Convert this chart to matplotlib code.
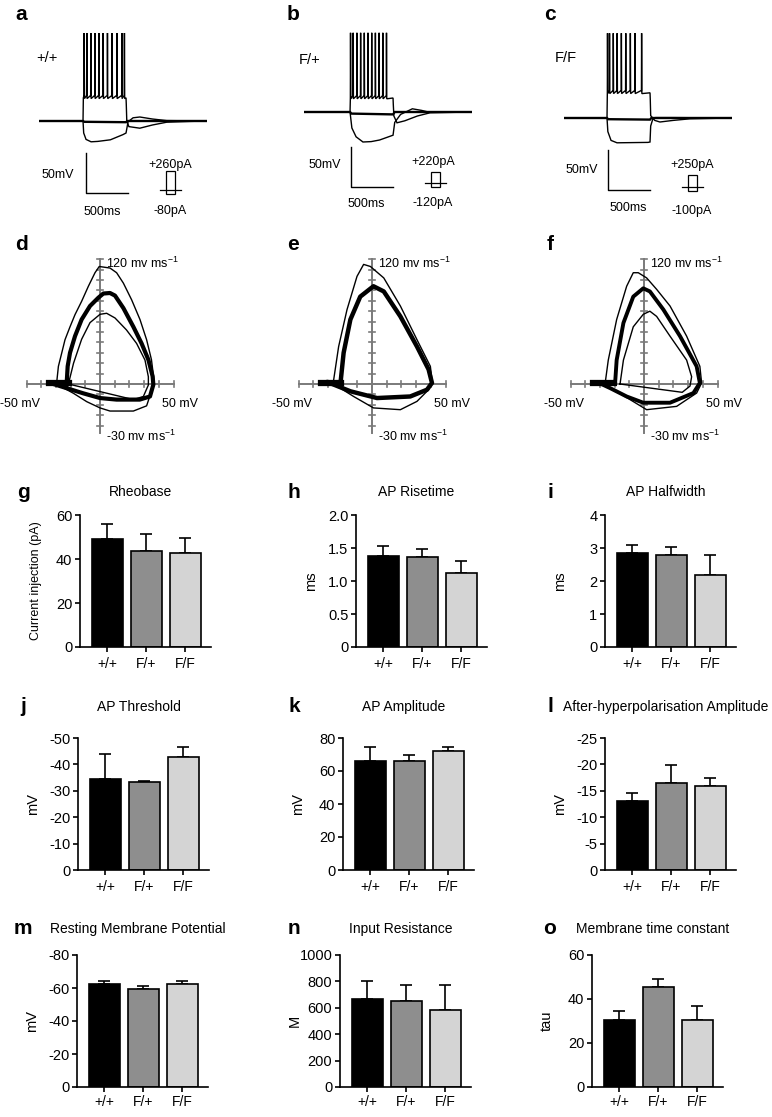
import numpy as np
import matplotlib.pyplot as plt
from matplotlib.lines import Line2D
from matplotlib.patches import Rectangle

plt.rcParams['font.family'] = ['Liberation Sans', 'DejaVu Sans']
plt.rcParams['mathtext.fontset'] = 'custom'
plt.rcParams['mathtext.rm'] = 'Liberation Sans'
plt.rcParams['axes.unicode_minus'] = False

W, H = 772, 1117

# ---------------- data ----------------
genotypes = ['+/+', 'F/+', 'F/F']
bar_colors = ['#000000', '#8e8e8e', '#d4d4d4']

rheobase = [48.9, 43.5, 42.6]
rheobase_sem = [7.0, 7.7, 6.9]
risetime = [1.38, 1.37, 1.12]
risetime_sem = [0.15, 0.11, 0.18]
halfwidth = [2.84, 2.78, 2.18]
halfwidth_sem = [0.24, 0.24, 0.60]
threshold = [-34.6, -33.3, -42.8]
threshold_sem = [9.2, 0.4, 3.8]
amplitude = [66.0, 66.0, 72.0]
amplitude_sem = [8.5, 4.0, 2.5]
ahp = [-13.0, -16.5, -16.0]
ahp_sem = [1.5, 3.3, 1.4]
rmp = [-62.4, -59.4, -62.2]
rmp_sem = [1.8, 2.0, 2.2]
rin = [667, 651, 583]
rin_sem = [136, 122, 190]
tau = [30.5, 45.5, 30.5]
tau_sem = [4.0, 3.5, 6.5]

# current-clamp traces (ms, mV)
step_on = [524, 548, 512]
step_off = [1036, 1060, 1024]
plateau = [-36, -47.5, -33.5]
spike_peak = [45, 34, 41]
spike_times = [
    [536, 567, 615, 663, 710, 762, 813, 869, 925, 984, 1015],
    [552, 583, 628, 672, 716, 760, 804, 848, 892, 936, 980],
    [516, 540, 585, 631, 681, 733, 788, 843, 922],
]
after_spike = [
    [(1045, -65), (1070, -72), (1200, -74), (1350, -70), (1520, -66.5), (1800, -65.5), (2000, -65)],
    [(1070, -70), (1107, -78.5), (1200, -76), (1350, -70), (1500, -66), (2000, -65)],
    [(1032, -62), (1080, -68), (1142, -70), (1300, -68), (1500, -66), (2000, -65)],
]
hyper_trace = [
    [(0, -65), (524, -65), (532, -80), (560, -88), (620, -91), (700, -90.5), (850, -88.5), (1000, -82), (1036, -80),
     (1060, -66), (1120, -61), (1200, -60), (1350, -62.5), (1520, -64.5), (2000, -65)],
    [(0, -65), (548, -65), (570, -85), (620, -96), (702, -102.5), (800, -102), (900, -100), (1060, -94),
     (1080, -78), (1150, -68), (1290, -61), (1400, -63), (1480, -65), (2000, -65)],
    [(0, -65), (512, -65), (522, -82), (560, -93), (631, -96), (1000, -95.5), (1024, -95),
     (1032, -75), (1055, -67), (1090, -64.5), (1300, -64.5), (2000, -65)],
]
sub_trace = [
    [(0, -65), (524, -65), (540, -66), (1036, -66.5), (1050, -65), (2000, -65)],
    [(0, -65), (548, -65), (565, -67), (1060, -68), (1080, -65), (2000, -65)],
    [(0, -65), (512, -65), (525, -66.5), (1024, -67), (1040, -65), (2000, -65)],
]
scalebar_t = [560, 560, 524]
scalebar_v = [-155, -158.75, -155]
genotype_label = ['+/+', 'F/+', 'F/F']
step_plus = ['+260pA', '+220pA', '+250pA']
step_minus = ['-80pA', '-120pA', '-100pA']

# phase plots (mV, mV/ms)
d_outer_v = [-29.5, -28.3, -26, -23.8, -20.4, -17, -12.5, -7.9, -3.4, -0.5, 6.8, 11.3, 15.9, 21.5, 27.2, 31.7, 35,
             36.7, 35, 31.7, 22.7, 6.8, 0, -9, -18, -27, -34]
d_outer_dv = [1, 17, 30, 42.6, 55, 66.7, 79.5, 94, 107, 113, 111.5, 107, 97, 81, 62, 42.6, 23.4,
              4, -7, -21, -26, -26, -23, -17, -9, -2, 1]
d_thick_v = [-22.7, -22, -20.4, -17, -12.5, -6.8, -1.1, 2.3, 6.8, 10.2, 15.9, 22.7, 28.3, 32.9, 35.8, 36.3,
             34, 27, 11.3, 0, -11.3, -22.7, -34]
d_thick_dv = [0, 17, 30, 46, 62, 75, 83, 87, 87.5, 85, 73, 55, 39, 23.4, 7.4, -0.6,
              -12, -15, -15, -13.5, -9, -4, 1]
d_inner_v = [-21.5, -18, -12.5, -6.8, 0, 4.5, 10.2, 18, 24.9, 30.6, 32.9, 32.9, 29.5, 22.7]
d_inner_dv = [0, 20, 43, 59, 67, 68, 63.5, 52, 39, 23, 7, -1, -12, -15]

e_outer_v = [-26.5, -22.7, -17, -10.2, -5.7, -1.1, 8, 19.3, 30.6, 39.7, 40.8, 38.5, 30.6, 19.3, 1, -12.5, -23.8, -30]
e_outer_dv = [0, 36, 71.5, 103.5, 115, 113, 102, 75, 42.6, 17, 4, -5.5, -16.7, -24.7, -23, -12, -2, 1]
e_thick_v = [-21.5, -19.3, -14.7, -8, 1, 8, 19.3, 30.6, 38.5, 40.8, 37.4, 26, 3.4, -14.7, -30.6]
e_thick_dv = [0, 30, 62, 84, 94, 89, 65, 36, 14, 1, -5.5, -12, -13.5, -7, 2]

f_outer_v = [-26.5, -24.3, -18.6, -11.8, -7.3, -3.9, 1.8, 8.6, 17.7, 29, 38, 39.2, 35.8, 22.2, 1.8, -9.5, -20.9, -30]
f_outer_dv = [0, 23, 62, 94, 107, 107, 102, 91, 75, 46, 17, 1, -8.7, -21.5, -24.7, -15, -5.5, 1]
f_thick_v = [-19.7, -18.6, -14, -7.3, -0.5, 4, 13.2, 24.5, 35.8, 38, 33.6, 17.7, -0.5, -11.8, -23, -32]
f_thick_dv = [0, 23, 58.7, 84, 92, 89, 71.5, 46, 17, 1, -8.7, -18, -18, -12, -4, 2]
f_inner_v = [-16.3, -14, -7.3, -0.5, 4, 8.6, 17.7, 29, 32.4, 31.3, 26]
f_inner_dv = [0, 23, 55, 67, 70, 65, 46, 23, 7, -2, -8]

fig = plt.figure(figsize=(W / 100, H / 100), dpi=100)


def px_axes(left, top, right, bottom):
    return fig.add_axes([left / W, 1 - bottom / H, (right - left) / W, (bottom - top) / H])


def ftext(x, y, s, **kw):
    fig.text(x / W, 1 - y / H, s, **kw)


def letter(x, y, s):
    ftext(x, y, s, fontsize=15, fontweight='bold', ha='center', va='center')


# ---------------- a, b, c: voltage traces ----------------
trace_left = [39, 304, 564]
trace_base = [121, 112, 118]
for i in range(3):
    top_px, bot_px = 25, 225
    ax = px_axes(trace_left[i], top_px, trace_left[i] + 168, bot_px)
    ax.set_xlim(0, 2000)
    ax.set_ylim(-65 - (bot_px - trace_base[i]) / 0.8, -65 + (trace_base[i] - top_px) / 0.8)
    ax.axis('off')

    pts = [(0, -65), (step_on[i], -65), (step_on[i] + 4, plateau[i])]
    for t in spike_times[i]:
        pts += [(t, plateau[i] + 3), (t + 2, spike_peak[i]), (t + 5, plateau[i] - 1)]
    pts += [(step_off[i], plateau[i]), (step_off[i] + 3, plateau[i] - 8)]
    pts += after_spike[i]
    for tr, lw in [(pts, 1.0), (hyper_trace[i], 1.0), (sub_trace[i], 1.7)]:
        tt, vv = zip(*tr)
        ax.plot(tt, vv, color='black', lw=lw, solid_joinstyle='miter')

    # scale bar 50 mV / 500 ms
    sb_x, sb_y = scalebar_t[i], scalebar_v[i]
    ax.plot([sb_x, sb_x, sb_x + 500], [sb_y + 50, sb_y, sb_y], color='black', lw=1.0)

letter(21, 15, 'a')
letter(293, 15, 'b')
letter(550, 15, 'c')
ftext(47, 58, '+/+', fontsize=10.5, ha='center', va='center')
ftext(310, 60, 'F/+', fontsize=10.5, ha='center', va='center')
ftext(566, 58, 'F/F', fontsize=10.5, ha='center', va='center')

mv_pos = [(58, 175), (325, 165), (582, 170)]
ms_pos = [(102, 212), (366, 204), (628, 208)]
plus_pos = [(170, 165), (433, 162), (692, 165)]
minus_pos = [(170, 211), (433, 203), (692, 211)]
icon = [(166, 171, 190, 194), (431, 172, 183, 187), (688, 175, 187, 191)]
for i in range(3):
    ftext(*mv_pos[i], '50mV', fontsize=9, ha='center', va='center')
    ftext(*ms_pos[i], '500ms', fontsize=9, ha='center', va='center')
    ftext(*plus_pos[i], step_plus[i], fontsize=9, ha='center', va='center')
    ftext(*minus_pos[i], step_minus[i], fontsize=9, ha='center', va='center')
    x0, ytop, yline, ybot = icon[i]
    fig.add_artist(Rectangle((x0 / W, 1 - ybot / H), 9 / W, (ybot - ytop) / H,
                             transform=fig.transFigure, fill=False, lw=0.9, ec='black'))
    fig.add_artist(Line2D([(x0 - 6) / W, (x0 + 15) / W], [1 - yline / H, 1 - yline / H],
                          transform=fig.transFigure, lw=0.9, color='black'))

# ---------------- d, e, f: phase plots ----------------
phase_origin = [100, 372, 644]
phase_loops = [
    [(d_outer_v, d_outer_dv, 1.0), (d_thick_v, d_thick_dv, 3.0), (d_inner_v, d_inner_dv, 1.0)],
    [(e_outer_v, e_outer_dv, 1.0), (e_thick_v, e_thick_dv, 3.2)],
    [(f_outer_v, f_outer_dv, 1.0), (f_thick_v, f_thick_dv, 2.8), (f_inner_v, f_inner_dv, 1.0)],
]
axis_gray = '#7a7a7a'
for i in range(3):
    ox, oy = phase_origin[i], 384
    ax = px_axes(ox - 110, 240, ox + 110, 450)
    ax.set_xlim(-110 / 1.47, 110 / 1.47)
    ax.set_ylim((oy - 450) / 1.04, (oy - 240) / 1.04)
    ax.axis('off')
    ax.plot([-50, 50], [0, 0], color=axis_gray, lw=1.4, zorder=1)
    ax.plot([0, 0], [-47, 120], color=axis_gray, lw=1.4, zorder=1)
    for x in np.arange(-50, 51, 10):
        ax.plot([x, x], [-2.6, 2.6], color=axis_gray, lw=1.2, zorder=1)
    for y in np.arange(-40, 121, 10):
        ax.plot([-2.2, 2.2], [y, y], color=axis_gray, lw=1.2, zorder=1)
    for v, dv, lw in phase_loops[i]:
        ax.plot(list(v) + [v[0]], list(dv) + [dv[0]], color='black', lw=lw, zorder=3,
                solid_joinstyle='round')
    ax.plot([-35, -21], [0.5, 0.5], color='black', lw=4.5, zorder=3)
    ax.text(4, 116, '120 mv ms$^{-1}$', fontsize=9, ha='left', va='center')
    ax.text(4, -50, '-30 mv ms$^{-1}$', fontsize=9, ha='left', va='center')
    ax.text(-41, -19, '-50 mV', fontsize=9, ha='right', va='center')
    ax.text(42, -19, '50 mV', fontsize=9, ha='left', va='center')

letter(21, 245, 'd')
letter(293, 245, 'e')
letter(550, 245, 'f')

# ---------------- g - o: bar charts ----------------
panels = [
    ('g', 'Rheobase', 'Current injection (pA)', rheobase, rheobase_sem, 60, [0, 20, 40, 60], None, 80, 515, 9),
    ('h', 'AP Risetime', 'ms', risetime, risetime_sem, 2.0, [0, 0.5, 1.0, 1.5, 2.0],
     ['0', '0.5', '1.0', '1.5', '2.0'], 356, 515, 10.5),
    ('i', 'AP Halfwidth', 'ms', halfwidth, halfwidth_sem, 4, [0, 1, 2, 3, 4], None, 605, 515, 10.5),
    ('j', 'AP Threshold', 'mV', threshold, threshold_sem, -50, [0, -10, -20, -30, -40, -50], None, 78, 738, 10.5),
    ('k', 'AP Amplitude', 'mV', amplitude, amplitude_sem, 80, [0, 20, 40, 60, 80], None, 343, 738, 10.5),
    ('l', 'After-hyperpolarisation Amplitude', 'mV', ahp, ahp_sem, -25, [0, -5, -10, -15, -20, -25], None, 605, 738, 10.5),
    ('m', 'Resting Membrane Potential', 'mV', rmp, rmp_sem, -80, [0, -20, -40, -60, -80], None, 77, 955, 10.5),
    ('n', 'Input Resistance', 'M', rin, rin_sem, 1000, [0, 200, 400, 600, 800, 1000], None, 340, 955, 10.5),
    ('o', 'Membrane time constant', 'tau', tau, tau_sem, 60, [0, 20, 40, 60], None, 592, 955, 10.5),
]
title_y = {515: 492, 738: 707, 955: 929}
letter_x = [23, 294, 550]

x = np.arange(3)
for k, (lt, title, ylabel, means, sems, ymax, yticks, ylabels, left, top, ylfs) in enumerate(panels):
    ax = px_axes(left, top, left + 131, top + 132)
    ax.bar(x, means, width=0.8, color=bar_colors, edgecolor='black', linewidth=1.2, zorder=2)
    zeros = [0, 0, 0]
    yerr = [zeros, sems] if ymax > 0 else [sems, zeros]
    ax.errorbar(x, means, yerr=yerr, fmt='none', ecolor='black', elinewidth=1.2,
                capsize=4.5, capthick=1.2, zorder=1)
    ax.set_xlim(-0.7, 2.66)
    ax.set_ylim(0, ymax)
    ax.set_yticks(yticks)
    if ylabels:
        ax.set_yticklabels(ylabels)
    ax.set_xticks(x)
    ax.set_xticklabels(genotypes)
    for s in ['top', 'right']:
        ax.spines[s].set_visible(False)
    for s in ['left', 'bottom']:
        ax.spines[s].set_linewidth(1.2)
    ax.tick_params(direction='out', length=3.5, width=1.2, labelsize=10.5, pad=2)
    ax.tick_params(axis='x', labelsize=10, pad=2 if top == 955 else 4)
    ax.set_ylabel(ylabel, fontsize=ylfs)
    ax.yaxis.set_label_coords(-0.29, 0.5)
    cx = left + 131 / 2 - 5
    ftext(cx, title_y[top], title, fontsize=10, ha='center', va='center')
    letter(letter_x[k % 3], title_y[top], lt)

fig.savefig('out.png', dpi=100, facecolor='white')
